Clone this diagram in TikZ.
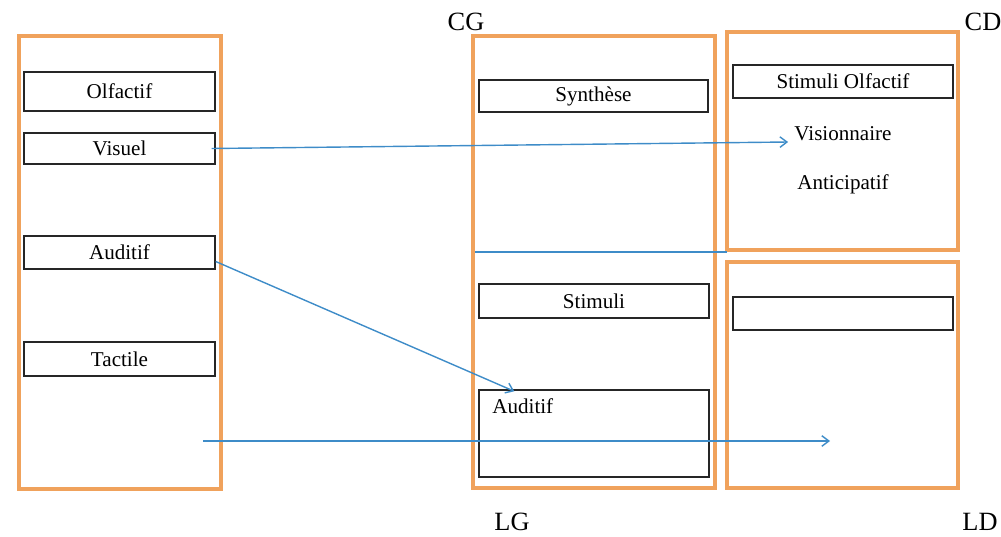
\documentclass[tikz,border=0pt]{standalone}
\usepackage{fontspec}
\setmainfont{Liberation Serif}
\usetikzlibrary{fit,calc,arrows.meta}
\definecolor{orng}{RGB}{240,162,92}
\definecolor{arrblue}{RGB}{62,140,200}
\tikzset{
  obox/.style={draw=orng, line width=2.3pt, inner sep=0pt},
  bbox/.style={draw=black!85, line width=0.8pt, inner sep=0pt},
  txt/.style={inner sep=0pt, font=\fontsize{12}{14}\selectfont},
  lab/.style={inner sep=0pt, font=\fontsize{15}{17}\selectfont},
  conn/.style={draw=arrblue, line width=0.8pt},
  arr/.style={conn, -{Straight Barb[length=4pt,width=6pt]}}
}
\begin{document}
\begin{tikzpicture}[x=0.02cm, y=-0.02cm]
\useasboundingbox (0,0) rectangle (1001,537);
% left column
\node[obox, fit={(19,36) (221,489)}] (L) {};
\node[bbox, fit={(24,72) (215,111)}, label={[txt]center:Olfactif}] (olf) {};
\node[bbox, fit={(24,133) (215,164)}, label={[txt]center:Visuel}] (visL) {};
\node[bbox, fit={(24,236) (215,269)}, label={[txt]center:Auditif}] (audL) {};
\node[bbox, fit={(24,342) (215,376)}, label={[txt]center:Tactile}] (tac) {};
% CG / LG column
\node[obox, fit={(473,36) (715,488)}] (G) {};
\node[bbox, fit={(479,80) (708,112)}, label={[txt]center:Synth\`ese}] (syn) {};
\node[bbox, fit={(479,284) (709,318)}, label={[txt]center:Stimuli}] (sti) {};
\node[bbox, fit={(479,390) (709,477)}] (audR) {};
\node[txt, anchor=north west] (audRt) at (492,398) {Auditif};
% CD column
\node[obox, fit={(727,32) (958,250)}] (CDb) {};
\node[bbox, fit={(733,65) (953,98)}, label={[txt]center:Stimuli Olfactif}] (stol) {};
\node[txt] (vis) at (843,134) {Visionnaire};
\node[txt] (ant) at (843,184) {Anticipatif};
% LD column
\node[obox, fit={(727,262) (958,488)}] (LDb) {};
\node[bbox, fit={(733,297) (953,330)}] (emp) {};
% labels
\node[lab] (cg) at (466,22) {CG};
\node[lab] (cd) at (983,22) {CD};
\node[lab] (lg) at (512,522) {LG};
\node[lab] (ld) at (980,522) {LD};
% connectors
\coordinate (mA) at (475,252);
\coordinate (mB) at (727,252);
\draw[conn] (mA) -- (mB);
\draw[arr] ($(visL.east)+(-4,0)$) -- ($(vis.west)+(-6,8)$);
\draw[arr] ($(audL.east)+(0,9)$) -- ($(audR.north west)+(36,2)$);
\coordinate (t1) at (203,441);
\coordinate (t2) at (830,441);
\draw[arr] (t1) -- (t2);
\end{tikzpicture}
\end{document}
